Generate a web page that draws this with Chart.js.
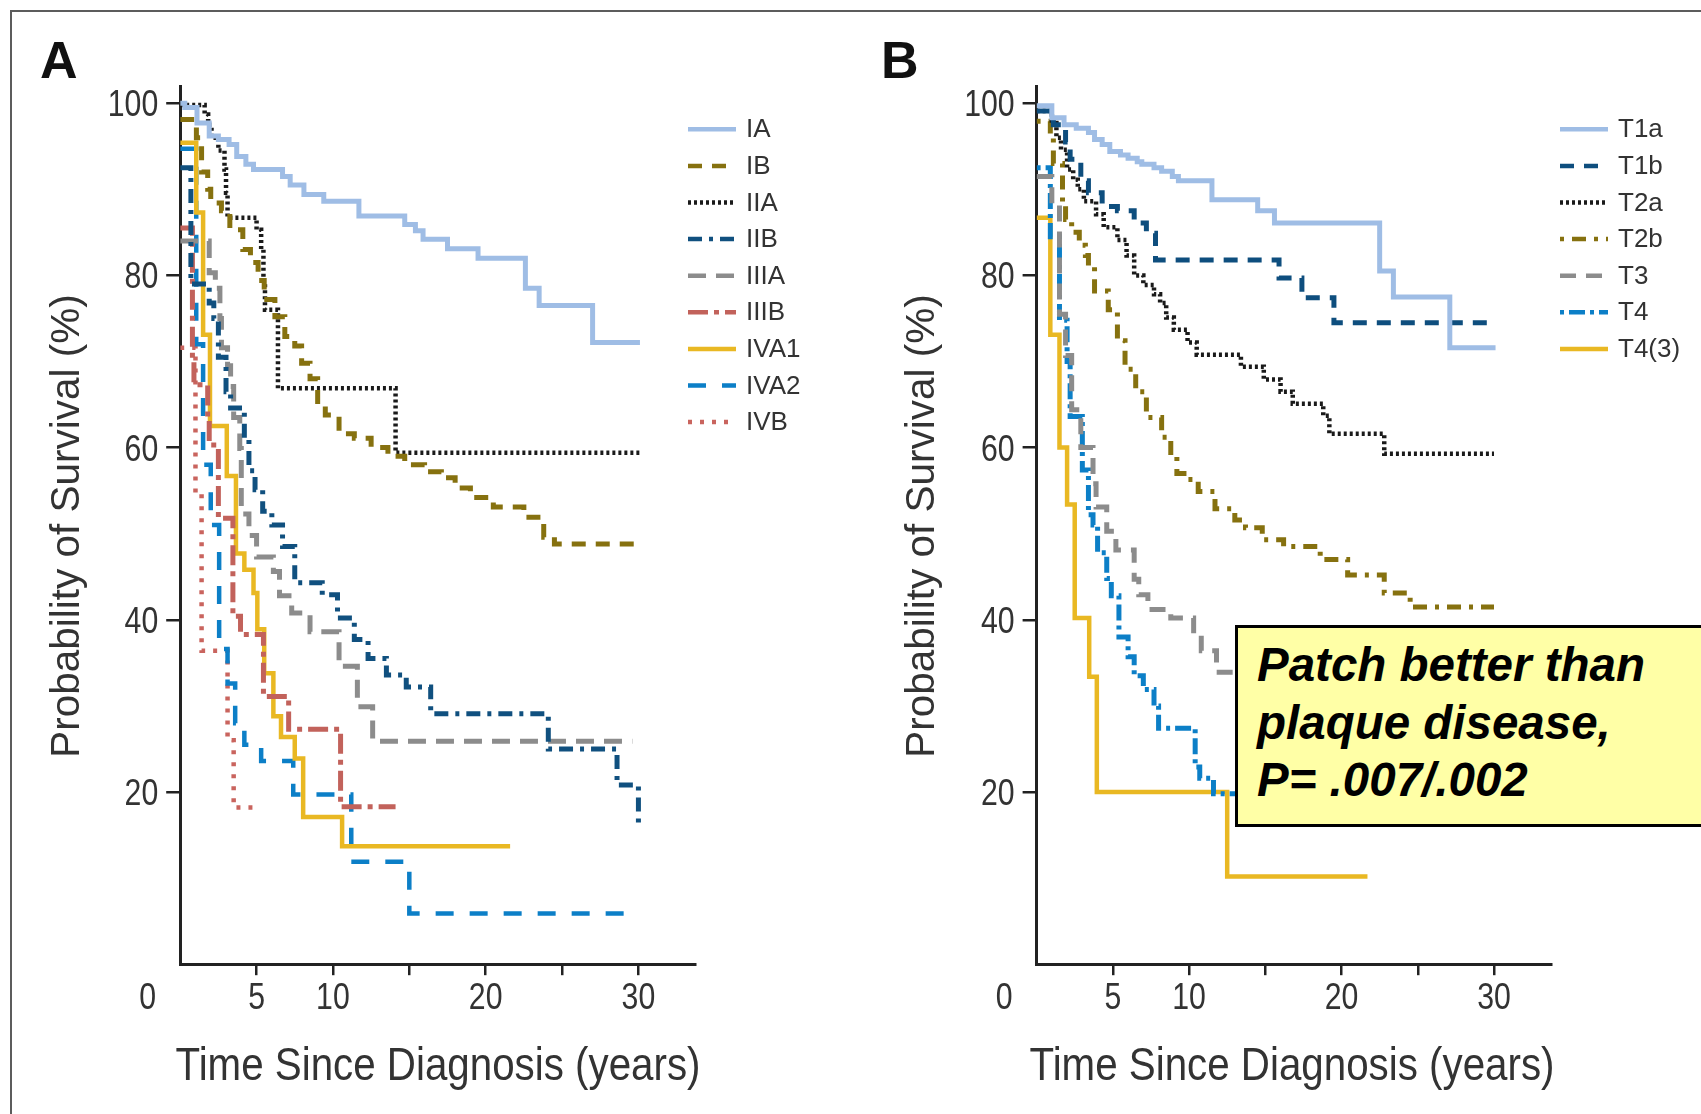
<!DOCTYPE html>
<html>
<head>
<meta charset="utf-8">
<title>Survival by stage</title>
<script src="https://cdn.jsdelivr.net/npm/chart.js@4.4.1/dist/chart.umd.min.js"></script>
<style>
  html, body { margin: 0; padding: 0; background: #fff; }
  #page { position: relative; width: 1701px; height: 1114px; overflow: hidden; background: #fff; }
  .frame { position: absolute; left: 10px; top: 10px; width: 1760px; height: 1160px;
           border-top: 2px solid #5c5c5c; border-left: 2px solid #5c5c5c; }
  .panel { position: absolute; top: 0; }
  #wrapA { left: 0; }
  #wrapB { left: 850px; }
  .note { position: absolute; left: 1235px; top: 625px; width: 520px; height: 188px;
          background: #FFFFA6; border: 3px solid #000; padding: 8px 0 0 19px; box-sizing: content-box;
          font: italic bold 47.5px "Liberation Sans", Arial, sans-serif; line-height: 57.5px; color: #000;
          white-space: nowrap; }
</style>
</head>
<body>
<div id="page">
  <div class="frame"></div>
  <div class="panel" id="wrapA"><canvas id="chartA" width="850" height="1114"></canvas></div>
  <div class="panel" id="wrapB"><canvas id="chartB" width="851" height="1114"></canvas></div>
  <div class="note">Patch better than<br>plaque disease,<br>P= .007/.002</div>
</div>

<script>
// Panel A: survival by stage (years since diagnosis, % surviving)
const stageNames = ['IA', 'IB', 'IIA', 'IIB', 'IIIA', 'IIIB', 'IVA1', 'IVA2', 'IVB'];

const iaYears = [0, 0.3, 1.1, 1.9, 2.5, 3.2, 3.7, 4.3, 4.8, 6.7, 7.2, 8.1, 9.4, 11.7, 14.7, 15.4, 15.9, 17.5, 19.5, 22.6, 23.5, 27.0, 30.1];
const iaSurv  = [100, 99.5, 97.7, 96.2, 95.8, 95.2, 93.8, 92.9, 92.3, 91.5, 90.5, 89.4, 88.6, 86.9, 85.9, 85.2, 84.2, 83.1, 82.0, 78.5, 76.5, 72.2, 72.2];

const ibYears = [0, 1.06, 1.4, 1.8, 2.0, 2.7, 3.25, 4.1, 4.6, 5.1, 5.5, 6.2, 6.85, 7.5, 7.95, 8.5, 9.0, 9.5, 10.4, 11.4, 12.5, 13.6, 14.7, 16.0, 17.1, 18.0, 19.0, 20.5, 22.5, 23.8, 24.5, 30.1];
const ibSurv  = [98.1, 96, 92, 90, 88.4, 87.5, 85.3, 83, 81.5, 79.4, 77.2, 75.2, 72.9, 71.8, 69.8, 68, 64.8, 63.8, 61.6, 61.1, 60.0, 59.0, 58.0, 57.2, 56.5, 55.3, 54.2, 53.1, 51.9, 49.6, 48.8, 48.8];

const iiaYears = [0, 1.6, 1.83, 2.05, 2.5, 2.9, 3.0, 3.1, 5.0, 5.3, 5.45, 5.55, 6.4, 14.1, 30.1];
const iiaSurv  = [99.8, 98.7, 97.5, 96.0, 94.5, 92.3, 89.6, 86.7, 85.3, 83.0, 79.0, 76.0, 66.9, 59.4, 59.4];

const iibYears = [0, 0.7, 1.9, 2.2, 2.5, 3.0, 3.3, 4.2, 4.5, 4.9, 5.4, 6.0, 6.7, 7.5, 9.3, 10.3, 11.4, 12.3, 13.5, 14.8, 16.4, 24.1, 28.6, 30.0, 30.1];
const iibSurv  = [92.5, 79, 76.8, 75, 70.5, 66.5, 64.6, 60.9, 57.3, 55.1, 52.6, 51, 48.5, 44.3, 42.9, 40.2, 37.7, 35.5, 33.6, 32.2, 29.1, 25.0, 20.8, 16.3, 16.3];

const iiiaYears = [0, 1.9, 2.3, 2.6, 2.7, 3.1, 3.3, 3.5, 3.9, 4.0, 4.5, 5.0, 6.1, 6.5, 7.3, 8.5, 10.4, 11.6, 12.6, 29.6];
const iiiaSurv  = [84, 80.3, 78.5, 75, 71.6, 69.5, 67.1, 63.5, 59.9, 52.3, 49.8, 47.3, 45.6, 42.8, 40.8, 38.6, 34.6, 29.9, 25.9, 25.9];

const iiibYears = [0, 0.8, 0.9, 1.8, 1.9, 2.5, 3.45, 3.95, 5.45, 7.1, 10.5, 14.1];
const iiibSurv  = [85.5, 70, 67.3, 63.5, 60.3, 51.8, 40.4, 38.3, 31.1, 27.3, 18.3, 18.3];

const iva1Years = [0, 1.05, 1.5, 1.95, 3.05, 3.65, 4.2, 4.8, 5.05, 5.5, 6.1, 6.6, 7.5, 8.05, 10.6, 21.6];
const iva1Surv  = [95.4, 87.3, 73.1, 62.5, 56.7, 47.7, 45.8, 43.1, 38.9, 33.8, 28.8, 26.4, 23.9, 17.1, 13.7, 13.7];

const iva2Years = [0, 1.05, 1.5, 2.0, 2.55, 3.1, 3.6, 4.2, 5.3, 7.4, 11.2, 15.0, 29.2];
const iva2Surv  = [94.7, 72, 58, 51, 36.6, 32.6, 28, 25.5, 23.6, 19.7, 11.9, 5.9, 5.9];

const ivbYears = [0, 1.0, 1.4, 3.1, 3.5, 5.0];
const ivbSurv  = [71.6, 54.6, 36.4, 26, 18.2, 18.2];

// Panel B: survival by T category
const tNames = ['T1a', 'T1b', 'T2a', 'T2b', 'T3', 'T4', 'T4(3)'];

const t1aYears = [0, 1.0, 1.8, 2.6, 3.4, 3.8, 4.3, 4.8, 5.5, 6.0, 6.6, 6.9, 7.7, 8.2, 8.9, 9.3, 11.5, 14.5, 15.6, 22.5, 23.4, 27.1, 30.1];
const t1aSurv  = [99.7, 98.3, 97.5, 97.1, 96.6, 95.8, 95.2, 94.4, 94.0, 93.6, 93.2, 92.9, 92.5, 92.1, 91.5, 91.0, 88.8, 87.5, 86.1, 80.5, 77.5, 71.6, 71.6];

const t1bYears = [0, 1.1, 1.9, 2.2, 2.9, 3.4, 4.3, 5.3, 6.4, 7.2, 7.8, 15.9, 17.4, 19.5, 30.1];
const t1bSurv  = [99.1, 97.5, 95.5, 93.5, 91.0, 89.6, 88.0, 87.5, 86.1, 84.9, 81.8, 79.7, 77.4, 74.5, 74.5];

const t2aYears = [0, 1.0, 1.3, 1.6, 2.0, 2.4, 2.7, 3.1, 3.9, 4.4, 5.3, 5.9, 6.4, 7.0, 7.7, 8.1, 8.5, 9.0, 9.9, 10.5, 13.4, 14.9, 16.0, 16.8, 18.8, 19.2, 22.8, 30.0];
const t2aSurv  = [99.1, 97.7, 96.0, 94.6, 92.3, 91.1, 90.0, 88.6, 87.1, 85.6, 84.1, 82.3, 80.0, 78.9, 77.8, 76.8, 75.1, 73.7, 72.2, 70.8, 69.4, 67.9, 66.5, 65.1, 63.7, 61.6, 59.3, 59.3];

const t2bYears = [0, 0.9, 1.1, 1.7, 1.9, 2.3, 2.8, 3.2, 3.4, 3.8, 4.7, 5.3, 5.8, 6.5, 7.2, 8.2, 8.8, 9.2, 9.9, 10.6, 11.7, 13.0, 13.7, 14.8, 16.2, 18.6, 20.4, 22.8, 24.5, 30.0];
const t2bSurv  = [97.9, 96.0, 93.0, 88.3, 86.5, 85.0, 83.5, 82.3, 81.0, 78.2, 76.0, 72.4, 69.1, 66.5, 63.5, 61.2, 59.1, 57.0, 56.3, 54.9, 52.9, 51.6, 50.7, 49.3, 48.5, 47.0, 45.2, 43.1, 41.5, 41.5];

const t3Years = [0, 1.0, 1.5, 1.9, 2.3, 2.9, 3.7, 3.9, 4.6, 5.2, 6.4, 6.7, 7.3, 8.8, 10.3, 10.8, 11.8, 14.0, 17.0, 21.0, 26.0, 29.9, 30.0];
const t3Surv  = [91.5, 88.3, 75.5, 70.7, 64.4, 60.0, 55.8, 53.1, 50.3, 48.1, 44.7, 42.9, 41.2, 40.2, 38.4, 36.4, 33.9, 30.5, 27, 24, 21, 16.5, 16.5];

const t4Years = [0, 0.9, 1.5, 2.0, 2.2, 3.0, 3.4, 3.7, 4.0, 4.6, 4.9, 5.4, 6.0, 6.4, 7.0, 7.7, 8.0, 10.4, 10.7, 11.6, 24.0];
const t4Surv  = [92.5, 84.5, 74.8, 70.0, 63.6, 57.4, 52.2, 51.0, 47.8, 44.8, 42.8, 38.0, 35.7, 33.5, 31.9, 30.0, 27.4, 22.9, 21.6, 19.8, 19.8];

const t43Years = [0, 0.9, 1.5, 2.0, 2.5, 3.45, 3.95, 12.5, 21.7];
const t43Surv  = [86.7, 73.1, 60.0, 53.4, 40.2, 33.4, 20.0, 10.2, 10.2];

// Axis ticks
const xTickValues = [5, 10, 15, 20, 25, 30];
const xTickLabels = ['5', '10', '', '20', '', '30'];
const yTickValues = [20, 40, 60, 80, 100];

// Line looks (color, width, dash), kept apart from the data
const stylesA = [
  { color: '#9FBDE5', width: 5,   dash: [] },
  { color: '#86710F', width: 5,   dash: [14, 10] },
  { color: '#1a1a1a', width: 4.5, dash: [3, 3] },
  { color: '#10507F', width: 5,   dash: [14, 7, 4, 7] },
  { color: '#8C8C8C', width: 5,   dash: [18, 10] },
  { color: '#C2625B', width: 5,   dash: [20, 6, 5, 6] },
  { color: '#E9B823', width: 4.5, dash: [] },
  { color: '#0C7FC7', width: 4.5, dash: [18, 16] },
  { color: '#C9645E', width: 4.5, dash: [4, 8] }
];
const stylesB = [
  { color: '#9FBDE5', width: 5,   dash: [] },
  { color: '#0E4E7E', width: 5,   dash: [14, 10] },
  { color: '#1a1a1a', width: 4.5, dash: [3, 3] },
  { color: '#86710F', width: 5,   dash: [4, 8, 14, 8] },
  { color: '#8C8C8C', width: 5,   dash: [16, 10] },
  { color: '#0C7FC7', width: 5,   dash: [4, 5, 16, 5] },
  { color: '#E9B823', width: 4.5, dash: [] }
];

const TEXT_FONT = "'Liberation Sans', Arial, sans-serif";
const TICK_SQUEEZE = 0.84;

// Pair up times and survival into step points
function steps(years, surv) {
  return years.map((t, i) => ({ x: t, y: surv[i] }));
}

function makeDatasets(names, series, styles) {
  return names.map((name, i) => ({
    label: name,
    data: steps(series[i][0], series[i][1]),
    stepped: true,
    borderColor: styles[i].color,
    borderWidth: styles[i].width,
    borderDash: styles[i].dash,
    borderCapStyle: 'butt',
    borderJoinStyle: 'miter',
    pointRadius: 0,
    fill: false,
    tension: 0
  }));
}

// narrow text, like the condensed face of the original
function squeezedText(ctx, text, x, y, align) {
  ctx.save();
  ctx.translate(x, y);
  ctx.scale(TICK_SQUEEZE, 1);
  ctx.textAlign = align;
  ctx.fillText(text, 0, 0);
  ctx.restore();
}

// Draws tick labels, the panel letter, axis titles and the legend
const decorPlugin = {
  id: 'decor',
  afterDraw(chart, args, opts) {
    const ctx = chart.ctx;
    const xs = chart.scales.x;
    const ys = chart.scales.y;
    const area = chart.chartArea;
    ctx.save();

    // panel letter
    ctx.fillStyle = '#111';
    ctx.font = 'bold 52px ' + TEXT_FONT;
    ctx.textAlign = 'left';
    ctx.textBaseline = 'alphabetic';
    ctx.fillText(opts.letter, opts.letterX, 78);

    // tick labels
    ctx.fillStyle = '#333';
    ctx.font = '36px ' + TEXT_FONT;
    ctx.textBaseline = 'alphabetic';
    const xBase = area.bottom + 45;
    squeezedText(ctx, '0', xs.getPixelForValue(0) - 32.5, xBase, 'center');
    xTickValues.forEach((v, i) => {
      squeezedText(ctx, xTickLabels[i], xs.getPixelForValue(v), xBase, 'center');
    });
    yTickValues.forEach(v => {
      squeezedText(ctx, String(v), area.left - 22, ys.getPixelForValue(v) + 13, 'right');
    });

    // x title
    ctx.font = '46px ' + TEXT_FONT;
    ctx.textAlign = 'center';
    ctx.fillText('Time Since Diagnosis (years)', opts.xTitleX, 1080, 525);

    // y title
    ctx.save();
    ctx.translate(opts.yTitleX, 526);
    ctx.rotate(-Math.PI / 2);
    ctx.font = '40.5px ' + TEXT_FONT;
    ctx.textBaseline = 'middle';
    ctx.fillText('Probability of Survival (%)', 0, 0);
    ctx.restore();

    // legend
    const rowY = 129.3, rowGap = 36.6;
    chart.data.datasets.forEach((ds, i) => {
      const y = rowY + i * rowGap;
      ctx.beginPath();
      ctx.strokeStyle = ds.borderColor;
      ctx.lineWidth = Math.min(ds.borderWidth, 4.5);
      ctx.setLineDash(ds.borderDash || []);
      ctx.lineCap = 'butt';
      ctx.moveTo(opts.legendX, y);
      ctx.lineTo(opts.legendX + 48, y);
      ctx.stroke();
      ctx.setLineDash([]);
      ctx.fillStyle = '#333';
      ctx.font = '26px ' + TEXT_FONT;
      ctx.textAlign = 'left';
      ctx.textBaseline = 'middle';
      ctx.fillText(ds.label, opts.legendX + 58, y + 1);
    });
    ctx.restore();
  }
};

function makeChart(canvasId, datasets, axisLeft, axisRight, canvasW, decor) {
  return new Chart(document.getElementById(canvasId), {
    type: 'line',
    data: { datasets: datasets },
    plugins: [decorPlugin],
    options: {
      responsive: false,
      animation: false,
      events: [],
      layout: { padding: { left: 0, right: canvasW - axisRight, top: 86, bottom: 0 } },
      plugins: {
        legend: { display: false },
        tooltip: { enabled: false },
        decor: decor
      },
      scales: {
        x: {
          type: 'linear',
          min: 0,
          max: 33.75,
          afterFit: axis => { axis.height = 1114 - 964.2; },
          afterBuildTicks: axis => { axis.ticks = xTickValues.map(v => ({ value: v })); },
          grid: { display: true, drawOnChartArea: false, drawTicks: true, tickLength: 11, color: '#222', lineWidth: 2.5 },
          border: { display: true, color: '#222', width: 3 },
          ticks: { display: false, autoSkip: false }
        },
        y: {
          min: 0,
          max: 102,
          afterFit: axis => { axis.width = axisLeft; },
          afterBuildTicks: axis => { axis.ticks = yTickValues.map(v => ({ value: v })); },
          grid: { display: true, drawOnChartArea: false, drawTicks: true, tickLength: 14, color: '#222', lineWidth: 2.5 },
          border: { display: true, color: '#222', width: 3 },
          ticks: { display: false }
        }
      }
    }
  });
}

const seriesA = [
  [iaYears, iaSurv], [ibYears, ibSurv], [iiaYears, iiaSurv], [iibYears, iibSurv],
  [iiiaYears, iiiaSurv], [iiibYears, iiibSurv], [iva1Years, iva1Surv], [iva2Years, iva2Surv], [ivbYears, ivbSurv]
];
const seriesB = [
  [t1aYears, t1aSurv], [t1bYears, t1bSurv], [t2aYears, t2aSurv], [t2bYears, t2bSurv],
  [t3Years, t3Surv], [t4Years, t4Surv], [t43Years, t43Surv]
];

makeChart('chartA', makeDatasets(stageNames, seriesA, stylesA), 180.2, 695.7, 850,
  { letter: 'A', letterX: 40, xTitleX: 438, yTitleX: 68, legendX: 688 });
makeChart('chartB', makeDatasets(tNames, seriesB, stylesB), 186.6, 701.2, 851,
  { letter: 'B', letterX: 31, xTitleX: 442, yTitleX: 73, legendX: 710 });
</script>
</body>
</html>
